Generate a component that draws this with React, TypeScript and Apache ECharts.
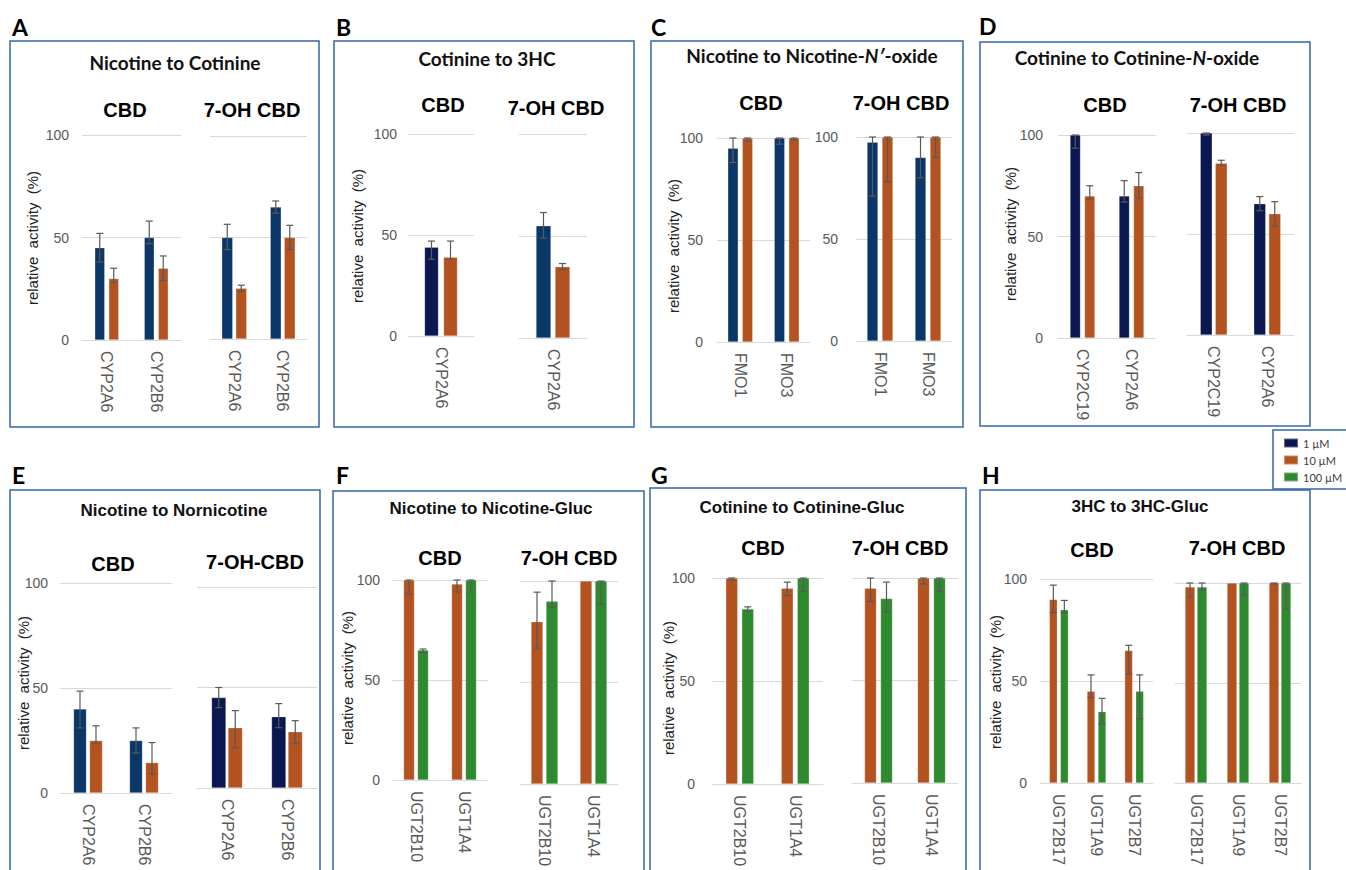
import React, { useEffect, useRef } from "react";
import * as echarts from "echarts";

// ---------------- DATA ----------------
const concLabels = ["1 µM", "10 µM", "100 µM"];
const groupLabels = ["CBD", "7-OH CBD", "7-OH-CBD"];
const yAxisTitle = "relative  activity  (%)";

// A: Nicotine to Cotinine
const aCats = ["CYP2A6", "CYP2B6"];
const aCbd1 = [45, 50];
const aCbd1Err = [[38, 52], [47, 58]];
const aCbd10 = [30, 35];
const aCbd10Err = [[28, 35], [29, 41]];
const aOh1 = [50, 65];
const aOh1Err = [[44, 56.5], [62, 68]];
const aOh10 = [25, 50];
const aOh10Err = [[23.5, 26.5], [44, 56]];

// B: Cotinine to 3HC
const bCats = ["CYP2A6"];
const bCbd1 = [44];
const bCbd1Err = [[38, 47]];
const bCbd10 = [39];
const bCbd10Err = [[38, 47]];
const bOh1 = [55];
const bOh1Err = [[49, 61.5]];
const bOh10 = [35];
const bOh10Err = [[33.5, 36.5]];

// C: Nicotine to Nicotine-N'-oxide
const cCats = ["FMO1", "FMO3"];
const cCbd1 = [95, 100];
const cCbd1Err = [[88, 100], [97, 100]];
const cCbd10 = [100, 100];
const cCbd10Err = [[98.5, 100], [99, 100]];
const cOh1 = [97.5, 90];
const cOh1Err = [[71, 100], [80, 100]];
const cOh10 = [100, 100];
const cOh10Err = [[78, 100], [90, 100]];

// D: Cotinine to Cotinine-N-oxide
const dCats = ["CYP2C19", "CYP2A6"];
const dCbd1 = [100, 70];
const dCbd1Err = [[93.5, 100], [67, 77.5]];
const dCbd10 = [70, 75];
const dCbd10Err = [[68.5, 75], [69, 81.5]];
const dOh1 = [100, 65];
const dOh1Err = [[99, 100], [61.5, 68.5]];
const dOh10 = [85, 60];
const dOh10Err = [[84, 86.5], [54, 66]];

// E: Nicotine to Nornicotine
const eCats = ["CYP2A6", "CYP2B6"];
const eCbd1 = [40, 25];
const eCbd1Err = [[31, 48.5], [19, 31]];
const eCbd10 = [25, 14.5];
const eCbd10Err = [[23.5, 32], [9, 24]];
const eOh1 = [45, 35.5];
const eOh1Err = [[40, 50], [30, 42]];
const eOh10 = [30, 28];
const eOh10Err = [[20, 38.5], [22, 33.5]];

// F: Nicotine to Nicotine-Gluc
const fCats = ["UGT2B10", "UGT1A4"];
const fCbd10 = [100, 98];
const fCbd10Err = [[93, 100], [94, 100]];
const fCbd100 = [65, 100];
const fCbd100Err = [[63.5, 65.5], [94, 100]];
const fOh10 = [80, 100];
const fOh10Err = [[67, 94.5], null];
const fOh100 = [90, 100];
const fOh100Err = [[87, 100], [88.5, 100]];

// G: Cotinine to Cotinine-Gluc
const gCats = ["UGT2B10", "UGT1A4"];
const gCbd10 = [100, 95];
const gCbd10Err = [[99, 100], [91.5, 98]];
const gCbd100 = [85, 100];
const gCbd100Err = [[84, 86], [93.5, 100]];
const gOh10 = [95, 100];
const gOh10Err = [[88.5, 100], [97, 100]];
const gOh100 = [90, 100];
const gOh100Err = [[83.5, 98], [93.5, 100]];

// H: 3HC to 3HC-Gluc
const hCats = ["UGT2B17", "UGT1A9", "UGT2B7"];
const hCbd10 = [90, 45, 65];
const hCbd10Err = [[83.5, 97], [42, 53], [53.5, 67.5]];
const hCbd100 = [85, 35, 45];
const hCbd100Err = [[83.5, 89.5], [29, 41.5], [31.5, 53]];
const hOh10 = [98, 100, 100];
const hOh10Err = [[93, 100], null, [99.5, 100]];
const hOh100 = [98, 100, 100];
const hOh100Err = [[96.5, 100], [94, 100], [87, 100]];

// ---------------- STYLE / LAYOUT ----------------
const NAVY = "#0B3768";
const DARK = "#0B1750";
const ORANGE = "#B4531F";
const GREEN = "#2E8A2F";
const BORDER = "#3566A8";
const GRIDC = "#D9D9D9";
const TICKC = "#595959";
const ERRC = "#595959";

const concColor = (c: number, navy: string) => (c === 0 ? navy : c === 1 ? ORANGE : GREEN);

type Bar = { c: number; v: number[]; e: (number[] | null)[] };
type Sub = {
  cats: string[];
  bars: Bar[];
  box: [number, number, number, number];
  barW: number;
  gap: number;
  yLabels: boolean;
  yMargin: number;
  navy: string;
};

const subs: Sub[] = [
  { cats: aCats, bars: [{ c: 0, v: aCbd1, e: aCbd1Err }, { c: 1, v: aCbd10, e: aCbd10Err }], box: [82, 135, 99, 205], barW: 10, gap: 4, yLabels: true, yMargin: 13, navy: NAVY },
  { cats: aCats, bars: [{ c: 0, v: aOh1, e: aOh1Err }, { c: 1, v: aOh10, e: aOh10Err }], box: [210, 136, 97, 203], barW: 11, gap: 3, yLabels: false, yMargin: 12, navy: NAVY },
  { cats: bCats, bars: [{ c: 0, v: bCbd1, e: bCbd1Err }, { c: 1, v: bCbd10, e: bCbd10Err }], box: [408, 134, 66, 202], barW: 14, gap: 5, yLabels: true, yMargin: 11, navy: DARK },
  { cats: bCats, bars: [{ c: 0, v: bOh1, e: bOh1Err }, { c: 1, v: bOh10, e: bOh10Err }], box: [519, 134, 68, 204], barW: 15, gap: 4, yLabels: false, yMargin: 12, navy: NAVY },
  { cats: cCats, bars: [{ c: 0, v: cCbd1, e: cCbd1Err }, { c: 1, v: cCbd10, e: cCbd10Err }], box: [717, 138, 93, 204], barW: 10.5, gap: 4, yLabels: true, yMargin: 14, navy: NAVY },
  { cats: cCats, bars: [{ c: 0, v: cOh1, e: cOh1Err }, { c: 1, v: cOh10, e: cOh10Err }], box: [856, 137, 96, 204], barW: 11, gap: 4, yLabels: true, yMargin: 18, navy: NAVY },
  { cats: dCats, bars: [{ c: 0, v: dCbd1, e: dCbd1Err }, { c: 1, v: dCbd10, e: dCbd10Err }], box: [1058, 135, 98, 203], barW: 10.5, gap: 4, yLabels: true, yMargin: 15, navy: DARK },
  { cats: dCats, bars: [{ c: 0, v: dOh1, e: dOh1Err }, { c: 1, v: dOh10, e: dOh10Err }], box: [1187, 133, 107, 202], barW: 12, gap: 3, yLabels: false, yMargin: 12, navy: DARK },
  { cats: eCats, bars: [{ c: 0, v: eCbd1, e: eCbd1Err }, { c: 1, v: eCbd10, e: eCbd10Err }], box: [60, 583, 112, 210], barW: 13, gap: 3, yLabels: true, yMargin: 12, navy: NAVY },
  { cats: eCats, bars: [{ c: 0, v: eOh1, e: eOh1Err }, { c: 1, v: eOh10, e: eOh10Err }], box: [197, 587, 120, 201], barW: 14.5, gap: 2, yLabels: false, yMargin: 12, navy: DARK },
  { cats: fCats, bars: [{ c: 1, v: fCbd10, e: fCbd10Err }, { c: 2, v: fCbd100, e: fCbd100Err }], box: [392, 580, 96, 200], barW: 11, gap: 3, yLabels: true, yMargin: 12, navy: NAVY },
  { cats: fCats, bars: [{ c: 1, v: fOh10, e: fOh10Err }, { c: 2, v: fOh100, e: fOh100Err }], box: [520, 581, 98, 203], barW: 12, gap: 3, yLabels: false, yMargin: 12, navy: NAVY },
  { cats: gCats, bars: [{ c: 1, v: gCbd10, e: gCbd10Err }, { c: 2, v: gCbd100, e: gCbd100Err }], box: [712, 578, 111, 206], barW: 12, gap: 4, yLabels: true, yMargin: 17, navy: NAVY },
  { cats: gCats, bars: [{ c: 1, v: gOh10, e: gOh10Err }, { c: 2, v: gOh100, e: gOh100Err }], box: [852, 578, 106, 205], barW: 12, gap: 4, yLabels: false, yMargin: 12, navy: NAVY },
  { cats: hCats, bars: [{ c: 1, v: hCbd10, e: hCbd10Err }, { c: 2, v: hCbd100, e: hCbd100Err }], box: [1040, 579, 113, 204], barW: 8, gap: 3, yLabels: true, yMargin: 13, navy: NAVY },
  { cats: hCats, bars: [{ c: 1, v: hOh10, e: hOh10Err }, { c: 2, v: hOh100, e: hOh100Err }], box: [1175, 583, 126, 200], barW: 10, gap: 2, yLabels: false, yMargin: 12, navy: NAVY },
];

// panel frames, letters, titles, sub-titles, y names
const panelsDecor = [
  { letter: "A", lx: 12, ly: 27, frame: [10, 41, 309, 386], title: "Nicotine to Cotinine", tx: 175, ty: 62, top: true, sub: [[125, 110, 0], [252, 110, 1]], yn: [32, 238] },
  { letter: "B", lx: 336, ly: 27, frame: [334, 41, 300, 386], title: "Cotinine to 3HC", tx: 487, ty: 58, top: true, sub: [[443, 105, 0], [556, 108, 1]], yn: [357, 236] },
  { letter: "C", lx: 651, ly: 27, frame: [651, 41, 312, 386], title: "Nicotine to Nicotine-{i|N′}-oxide", tx: 812, ty: 55, top: true, sub: [[761, 103, 0], [901, 103, 1]], yn: [673, 246] },
  { letter: "D", lx: 979, ly: 26, frame: [980, 42, 330, 384], title: "Cotinine to Cotinine-{i|N}-oxide", tx: 1137, ty: 57, top: true, sub: [[1105, 105, 0], [1238, 105, 1]], yn: [1010, 234] },
  { letter: "E", lx: 12, ly: 475, frame: [10, 490, 310, 420], title: "Nicotine to Nornicotine", tx: 174, ty: 510, top: false, sub: [[113, 564, 0], [255, 562, 2]], yn: [23, 683] },
  { letter: "F", lx: 336, ly: 475, frame: [333, 491, 311, 420], title: "Nicotine to Nicotine-Gluc", tx: 491, ty: 508, top: false, sub: [[440, 558, 0], [569, 558, 1]], yn: [347, 678] },
  { letter: "G", lx: 651, ly: 475, frame: [650, 488, 316, 420], title: "Cotinine to Cotinine-Gluc", tx: 802, ty: 507, top: false, sub: [[763, 548, 0], [900, 548, 1]], yn: [668, 688] },
  { letter: "H", lx: 982, ly: 475, frame: [980, 490, 330, 420], title: "3HC to 3HC-Gluc", tx: 1140, ty: 506, top: false, sub: [[1092, 550, 0], [1237, 548, 1]], yn: [995, 682] },
];

function buildOption() {
  const grid: any[] = [];
  const xAxis: any[] = [];
  const yAxis: any[] = [];
  const series: any[] = [];

  subs.forEach((s, gi) => {
    const [left, top, width, height] = s.box;
    grid.push({ left, top, width, height, containLabel: false, outerBoundsMode: "none" });
    xAxis.push({
      gridIndex: gi,
      type: "category",
      data: s.cats,
      axisLine: { show: true, lineStyle: { color: GRIDC, width: 1 } },
      axisTick: { show: false },
      axisLabel: {
        rotate: -90,
        margin: 11,
        color: TICKC,
        fontSize: 16,
        fontFamily: "'Liberation Sans', Arial, sans-serif",
        interval: 0,
      },
    });
    yAxis.push({
      gridIndex: gi,
      type: "value",
      min: 0,
      max: 100,
      interval: 50,
      axisLine: { show: false },
      axisTick: { show: false },
      splitLine: { show: true, lineStyle: { color: GRIDC, width: 1 } },
      axisLabel: {
        show: s.yLabels,
        margin: s.yMargin,
        color: TICKC,
        fontSize: 14,
        fontFamily: "'Liberation Sans', Arial, sans-serif",
      },
    });
    const n = s.bars.length;
    s.bars.forEach((b, bi) => {
      const color = concColor(b.c, s.navy);
      series.push({
        type: "bar",
        name: concLabels[b.c],
        xAxisIndex: gi,
        yAxisIndex: gi,
        data: b.v,
        barWidth: s.barW,
        barGap: `${(s.gap / s.barW) * 100}%`,
        itemStyle: { color, borderColor: "rgba(255,255,255,0.35)", borderWidth: 0.6 },
        z: 2,
      });
      const offset = (bi - (n - 1) / 2) * (s.barW + s.gap);
      const errData = b.e
        .map((e, i) => (e ? [i, e[0], e[1]] : null))
        .filter((d) => d !== null);
      series.push({
        type: "custom",
        name: `err-${gi}-${bi}`,
        xAxisIndex: gi,
        yAxisIndex: gi,
        data: errData,
        encode: { x: 0, y: [1, 2] },
        z: 5,
        silent: true,
        renderItem: (params: any, api: any) => {
          const idx = api.value(0);
          const lo = api.coord([idx, api.value(1)]);
          const hi = api.coord([idx, api.value(2)]);
          const x = lo[0] + offset;
          const cap = 3.5;
          const st = { stroke: ERRC, lineWidth: 1.2 };
          return {
            type: "group",
            children: [
              { type: "line", shape: { x1: x, y1: hi[1], x2: x, y2: lo[1] }, style: st },
              { type: "line", shape: { x1: x - cap, y1: hi[1], x2: x + cap, y2: hi[1] }, style: st },
              { type: "line", shape: { x1: x - cap, y1: lo[1], x2: x + cap, y2: lo[1] }, style: st },
            ],
          };
        },
      });
    });
  });

  const graphic: any[] = [];
  panelsDecor.forEach((p) => {
    const [fx, fy, fw, fh] = p.frame;
    graphic.push({
      type: "rect",
      shape: { x: fx, y: fy, width: fw, height: fh },
      style: { fill: "none", stroke: BORDER, lineWidth: 1.5 },
      z: 0,
    });
    graphic.push({
      type: "text",
      x: p.lx,
      y: p.ly,
      style: {
        text: p.letter,
        font: "bold 23px Lato, 'Open Sans', sans-serif",
        fill: "#000",
        align: "left",
        verticalAlign: "middle",
      },
    });
    const tFont = p.top ? "bold 19px Lato, sans-serif" : "bold 17px 'Liberation Sans', Arial, sans-serif";
    const tiFont = p.top ? "italic bold 19px Lato, sans-serif" : "italic bold 17px 'Liberation Sans', sans-serif";
    graphic.push({
      type: "text",
      x: p.tx,
      y: p.ty,
      style: {
        text: p.title,
        font: tFont,
        fill: "#111",
        align: "center",
        verticalAlign: "middle",
        rich: { i: { font: tiFont, fill: "#111" } },
      },
    });
    p.sub.forEach(([sx, sy, gl]) => {
      graphic.push({
        type: "text",
        x: sx,
        y: sy,
        style: {
          text: groupLabels[gl],
          font: "bold 20px 'Liberation Sans', Arial, sans-serif",
          fill: "#000",
          align: "center",
          verticalAlign: "middle",
        },
      });
    });
    graphic.push({
      type: "text",
      x: p.yn[0],
      y: p.yn[1],
      rotation: Math.PI / 2,
      style: {
        text: yAxisTitle,
        font: "15px 'Liberation Sans', Arial, sans-serif",
        fill: "#222",
        align: "center",
        verticalAlign: "middle",
      },
    });
  });

  return {
    animation: false,
    backgroundColor: "#ffffff",
    grid,
    xAxis,
    yAxis,
    series,
    graphic,
    legend: {
      left: 1273,
      top: 430,
      orient: "vertical",
      selectedMode: false,
      padding: [7, 30, 6, 10],
      itemWidth: 14,
      itemHeight: 9,
      itemGap: 5,
      borderColor: BORDER,
      borderWidth: 1.5,
      icon: "rect",
      textStyle: { fontSize: 11, lineHeight: 12, color: "#404040", fontFamily: "Lato, sans-serif" },
      data: [
        { name: concLabels[0], itemStyle: { color: DARK } },
        { name: concLabels[1], itemStyle: { color: ORANGE } },
        { name: concLabels[2], itemStyle: { color: GREEN } },
      ],
    },
  };
}

export default function App() {
  const ref = useRef<HTMLDivElement>(null);
  useEffect(() => {
    if (!ref.current) return;
    const chart = echarts.init(ref.current, undefined, { renderer: "svg" });
    chart.setOption(buildOption() as any);
    return () => chart.dispose();
  }, []);
  return (
    <div
      ref={ref}
      style={{ position: "fixed", left: 0, top: 0, width: 1346, height: 870, background: "#fff" }}
    />
  );
}
